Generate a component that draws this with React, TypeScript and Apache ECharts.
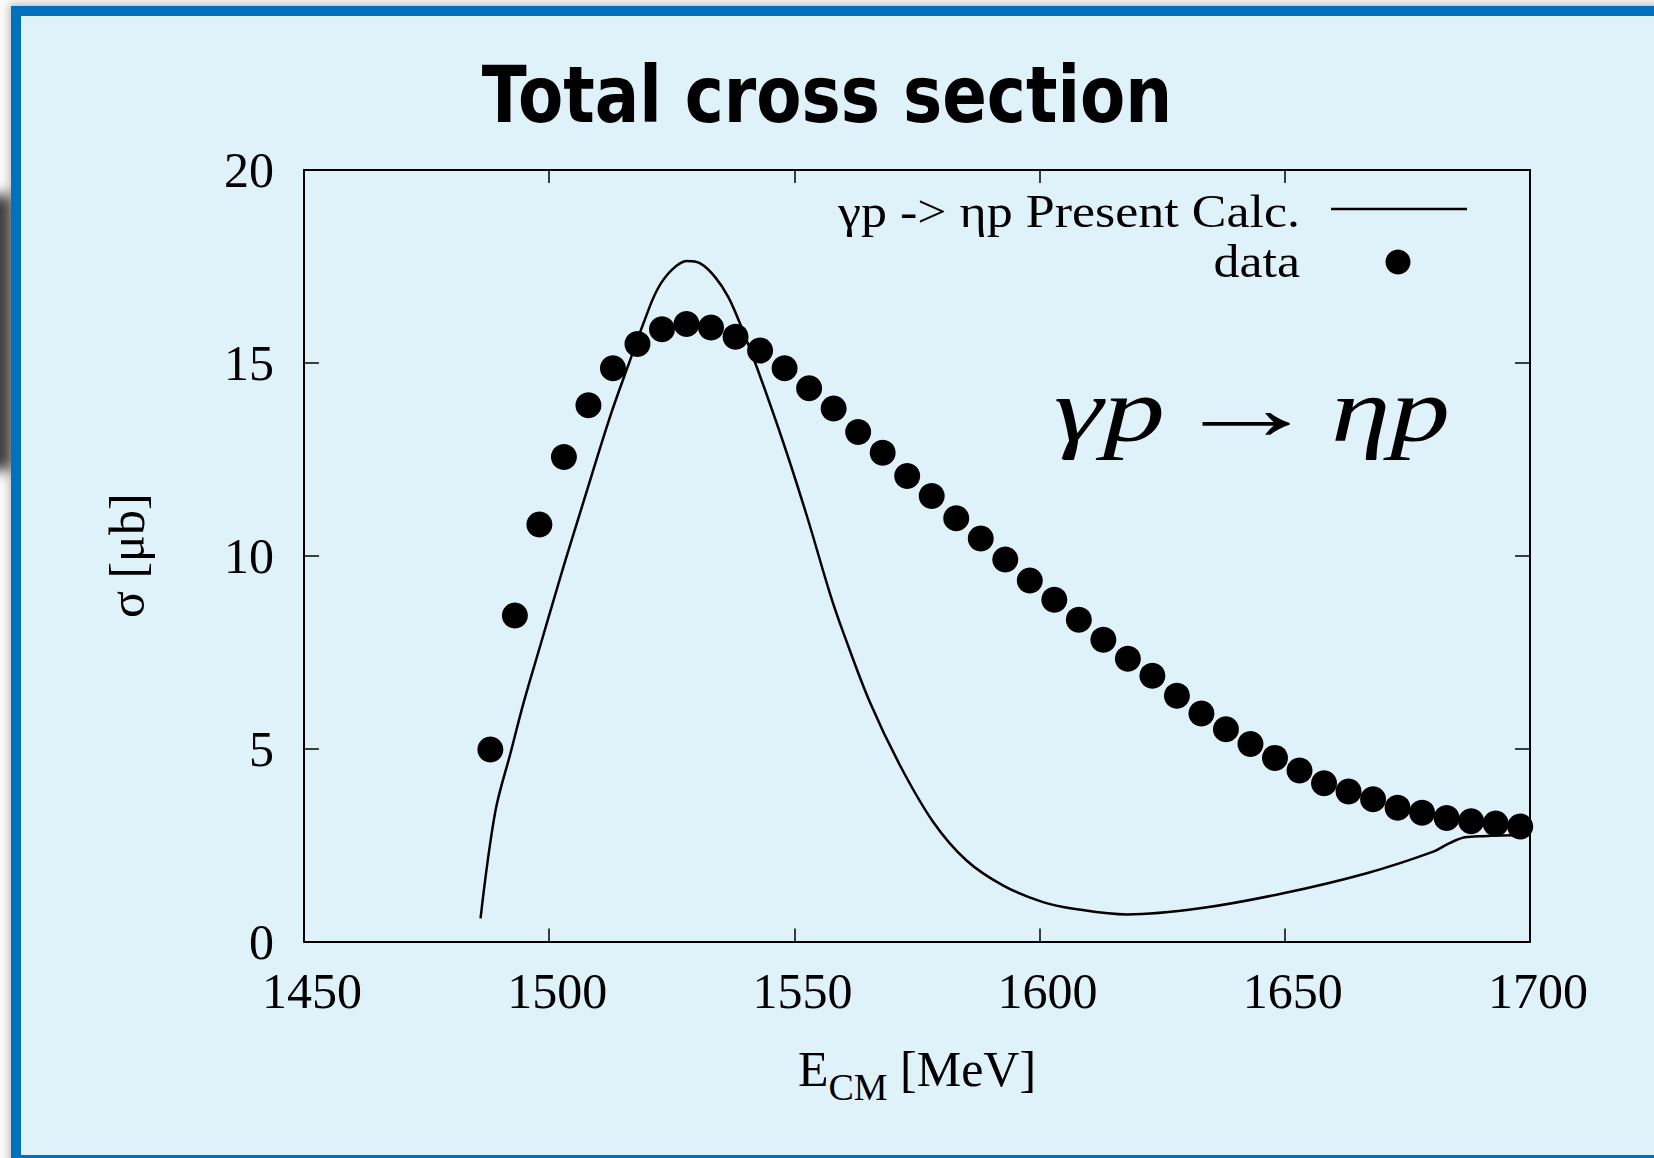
import React, { useEffect, useRef } from "react";
import * as echarts from "echarts";

const W = 1654;
const H = 1158;

const titleText = "Total cross section";
const seriesNames = ["γp -> ηp Present Calc.", "data"];
const xTicks = [1450, 1500, 1550, 1600, 1650, 1700];
const yTicks = [0, 5, 10, 15, 20];

// measured data points
const dataEnergy = [
  1488, 1493, 1498, 1503, 1508, 1513, 1518, 1523, 1528, 1533, 1538, 1543, 1548,
  1553, 1558, 1563, 1568, 1573, 1578, 1583, 1588, 1593, 1598, 1603, 1608, 1613,
  1618, 1623, 1628, 1633, 1638, 1643, 1648, 1653, 1658, 1663, 1668, 1673, 1678,
  1683, 1688, 1693, 1698,
];
const dataSigma = [
  4.98, 8.45, 10.81, 12.56, 13.9, 14.86, 15.49, 15.87, 16.01, 15.92, 15.68,
  15.32, 14.86, 14.34, 13.82, 13.21, 12.67, 12.07, 11.55, 10.97, 10.45, 9.9,
  9.36, 8.86, 8.34, 7.82, 7.33, 6.89, 6.37, 5.91, 5.5, 5.12, 4.76, 4.43, 4.1,
  3.89, 3.69, 3.47, 3.34, 3.2, 3.12, 3.06, 2.98,
];

// present calculation curve
const calcEnergy = [
  1486, 1489, 1492.1, 1494.8, 1498.2, 1500.9, 1503.3, 1507, 1512.4, 1516.5,
  1519.2, 1522, 1525, 1528.1, 1530.8, 1533.8, 1536.5, 1538.9, 1542.3, 1547.8,
  1552.5, 1557.3, 1560, 1565.4, 1571.6, 1578.3, 1585.1, 1592.6, 1600.7, 1606.9,
  1617.8, 1632.7, 1649.7, 1666.7, 1680.3, 1683.6, 1686.7, 1690.4, 1699.6,
];
const calcSigma = [
  0.6, 3.36, 4.88, 6.2, 7.68, 8.85, 9.88, 11.4, 13.6, 15.07, 16.02, 16.89,
  17.41, 17.64, 17.58, 17.23, 16.71, 16.02, 14.9, 12.91, 11.05, 9.0, 8.0,
  6.2, 4.55, 3.1, 2.1, 1.45, 1.02, 0.85, 0.7, 0.86, 1.25, 1.77, 2.33, 2.55,
  2.7, 2.73, 2.76,
];

const SERIF = "'Liberation Serif', 'Times New Roman', serif";

export default function App() {
  const ref = useRef<HTMLDivElement>(null);

  useEffect(() => {
    document.body.style.margin = "0";
    if (!ref.current) return;
    const chart = echarts.init(ref.current, null, { renderer: "svg" });

    const xMin = xTicks[0];
    const xMax = xTicks[xTicks.length - 1];
    const xInt = xTicks[1] - xTicks[0];
    const yMin = yTicks[0];
    const yMax = yTicks[yTicks.length - 1];
    const yInt = yTicks[1] - yTicks[0];

    const axisLine = { show: true, onZero: false, lineStyle: { color: "#000", width: 2 } };

    chart.setOption({
      animation: false,
      backgroundColor: "transparent",
      grid: { left: 304, right: 124, top: 170, bottom: 216.5 },
      xAxis: [
        {
          type: "value",
          position: "bottom",
          min: xMin,
          max: xMax,
          interval: xInt,
          axisLine,
          axisTick: { inside: true, length: 13, lineStyle: { color: "#000", width: 1.5 } },
          splitLine: { show: false },
          axisLabel: {
            fontFamily: SERIF,
            fontSize: 50,
            color: "#000",
            margin: 24,
            padding: [0, 0, 0, 16],
            formatter: (v: number) => String(v),
          },
          name: "{n|E}{s|CM}{n| [MeV]}",
          nameLocation: "middle",
          nameGap: 90,
          nameTextStyle: {
            rich: {
              n: { fontFamily: SERIF, fontSize: 50, color: "#000" },
              s: { fontFamily: SERIF, fontSize: 38, color: "#000", padding: [36, 0, 0, 0] },
            },
          },
        },
        {
          type: "value",
          position: "top",
          min: xMin,
          max: xMax,
          interval: xInt,
          axisLine,
          axisTick: { inside: true, length: 13, lineStyle: { color: "#000", width: 1.5 } },
          axisLabel: { show: false },
          splitLine: { show: false },
        },
      ],
      yAxis: [
        {
          type: "value",
          position: "left",
          min: yMin,
          max: yMax,
          interval: yInt,
          axisLine,
          axisTick: { inside: true, length: 15, lineStyle: { color: "#000", width: 1.5 } },
          splitLine: { show: false },
          axisLabel: { fontFamily: SERIF, fontSize: 50, color: "#000", margin: 30 },
          name: "σ [μb]",
          nameLocation: "middle",
          nameGap: 152,
          nameTextStyle: { fontFamily: SERIF, fontSize: 50, color: "#000" },
        },
        {
          type: "value",
          position: "right",
          min: yMin,
          max: yMax,
          interval: yInt,
          axisLine,
          axisTick: { inside: true, length: 15, lineStyle: { color: "#000", width: 1.5 } },
          axisLabel: { show: false },
          splitLine: { show: false },
        },
      ],
      series: [
        {
          name: seriesNames[0],
          type: "line",
          data: calcEnergy.map((e, i) => [e, calcSigma[i]]),
          showSymbol: false,
          smooth: 0.35,
          lineStyle: { color: "#000", width: 2.5 },
          z: 2,
        },
        {
          name: seriesNames[1],
          type: "scatter",
          data: dataEnergy.map((e, i) => [e, dataSigma[i]]),
          symbol: "circle",
          symbolSize: 26,
          itemStyle: { color: "#000", opacity: 1 },
          z: 3,
        },
      ],
      graphic: [
        {
          type: "text",
          x: 827,
          y: 95,
          scaleX: 0.845,
          style: {
            text: titleText,
            fontFamily: "'DejaVu Sans', sans-serif",
            fontWeight: "bold",
            fontSize: 78,
            fill: "#000",
            align: "center",
            verticalAlign: "middle",
          },
        },
        {
          type: "text",
          x: 1300,
          y: 212,
          scaleX: 1.13,
          style: {
            text: seriesNames[0],
            fontFamily: SERIF,
            fontSize: 46,
            fill: "#000",
            align: "right",
            verticalAlign: "middle",
          },
        },
        {
          type: "line",
          shape: { x1: 1331, y1: 209, x2: 1467, y2: 209 },
          style: { stroke: "#000", lineWidth: 2.5 },
        },
        {
          type: "text",
          x: 1300,
          y: 262,
          scaleX: 1.13,
          style: {
            text: seriesNames[1],
            fontFamily: SERIF,
            fontSize: 46,
            fill: "#000",
            align: "right",
            verticalAlign: "middle",
          },
        },
        {
          type: "circle",
          shape: { cx: 1398, cy: 262, r: 12.5 },
          style: { fill: "#000" },
        },
        {
          type: "text",
          x: 1054,
          y: 410,
          scaleX: 1.35,
          style: {
            text: "γp",
            fontFamily: SERIF,
            fontStyle: "italic",
            fontSize: 92,
            fill: "#000",
            align: "left",
            verticalAlign: "middle",
          },
        },
        {
          type: "text",
          x: 1246,
          y: 408,
          scaleX: 1.6,
          style: {
            text: "→",
            fontFamily: SERIF,
            fontSize: 92,
            fill: "#000",
            align: "center",
            verticalAlign: "middle",
          },
        },
        {
          type: "text",
          x: 1331,
          y: 410,
          scaleX: 1.3,
          style: {
            text: "ηp",
            fontFamily: SERIF,
            fontStyle: "italic",
            fontSize: 92,
            fill: "#000",
            align: "left",
            verticalAlign: "middle",
          },
        },
      ],
    });

    return () => chart.dispose();
  }, []);

  return (
    <div
      style={{
        position: "fixed",
        left: 0,
        top: 0,
        width: W,
        height: H,
        overflow: "hidden",
        background: "#fbfbfb",
      }}
    >
      <div
        style={{
          position: "absolute",
          left: -14,
          top: 195,
          width: 26,
          height: 275,
          background: "#3a3a3a",
          filter: "blur(7px)",
        }}
      />
      <div
        style={{
          position: "absolute",
          left: 11,
          top: 6,
          width: 1700,
          height: 1139,
          border: "10px solid #0071BC",
          background: "#DFF2F9",
          boxShadow: "0 0 8px 2px rgba(0,0,0,0.25)",
        }}
      />
      <div
        ref={ref}
        style={{ position: "absolute", left: 0, top: 0, width: W, height: H }}
      />
    </div>
  );
}
